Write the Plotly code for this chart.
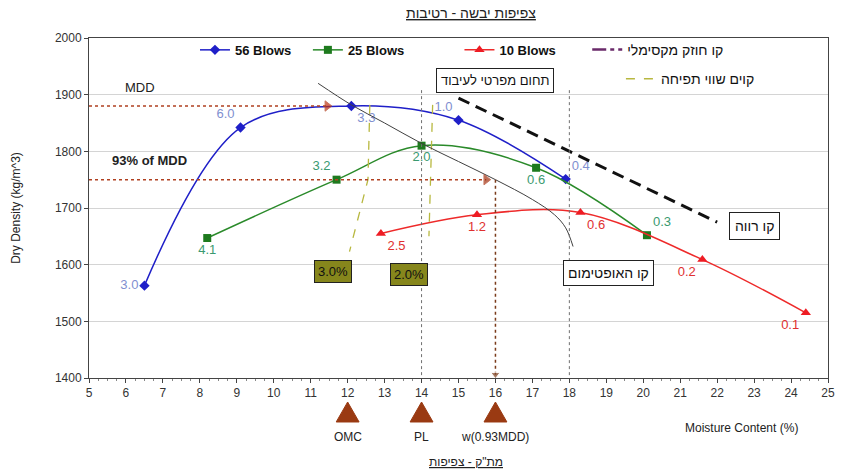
import plotly.graph_objects as go

# ---------------- data ----------------
moisture_56 = [6.5, 9.1, 12.1, 15.0, 17.9]
density_56 = [1563, 1842, 1880, 1855, 1751]
swell_56 = ["3.0", "6.0", "3.3", "1.0", "0.4"]

moisture_25 = [8.2, 11.7, 14.0, 17.1, 20.1]
density_25 = [1647, 1750, 1810, 1771, 1652]
swell_25 = ["4.1", "3.2", "2.0", "0.6", "0.3"]

moisture_10 = [12.9, 15.5, 18.3, 21.6, 24.4]
density_10 = [1655, 1688, 1692, 1609, 1515]
swell_10 = ["2.5", "1.2", "0.6", "0.2", "0.1"]

optimum_w = [11.2, 12.1, 13.0, 14.0, 15.0, 16.0, 17.0, 17.6, 17.9, 18.1]
optimum_d = [1920, 1882, 1850, 1814, 1782, 1750, 1715, 1688, 1665, 1632]

wet_w = [15.0, 22.0]
wet_d = [1894, 1675]

swell3_w = [12.6, 12.55, 12.05]
swell3_d = [1882, 1750, 1623]
swell2_w = [14.3, 14.25, 14.2]
swell2_d = [1882, 1750, 1650]

MDD = 1880
MDD93 = 1750
OMC = 12.0
PL = 14.0
W93 = 16.0
spec_range = [14.0, 18.0]
spec_top = 1908

marker_w = [OMC, PL, W93]
marker_names = ["OMC", "PL", "w(0.93MDD)"]

x_range = [5, 25]
y_range = [1400, 2000]

FONT = "Liberation Sans, Arial, DejaVu Sans, sans-serif"

fig = go.Figure()

# main series
fig.add_trace(go.Scatter(
    x=moisture_56, y=density_56, name="<b>56 Blows</b>",
    mode="lines+markers+text", line=dict(color="#1f1fc8", width=1.5, shape="spline", smoothing=1.0),
    marker=dict(symbol="diamond", size=8, color="#1f1fc8"),
    text=swell_56,
    textposition=["middle left", "top left", "bottom right", "top left", "top right"],
    textfont=dict(color="#7f8fd0", size=13, family=FONT),
    legend="legend"))
fig.add_trace(go.Scatter(
    x=moisture_25, y=density_25, name="<b>25 Blows</b>",
    mode="lines+markers+text", line=dict(color="#2a8a2a", width=1.5, shape="spline", smoothing=1.0),
    marker=dict(symbol="square", size=8, color="#1e7a1e"),
    text=swell_25,
    textposition=["bottom center", "top left", "bottom center", "bottom center", "top right"],
    textfont=dict(color="#3a9a70", size=13, family=FONT),
    legend="legend2"))
fig.add_trace(go.Scatter(
    x=moisture_10, y=density_10, name="<b>10 Blows</b>",
    mode="lines+markers+text", line=dict(color="#ee2a2a", width=1.5, shape="spline", smoothing=1.0),
    marker=dict(symbol="triangle-up", size=9, color="#ee1c24"),
    text=swell_10,
    textposition=["bottom right", "bottom center", "bottom right", "bottom left", "bottom left"],
    textfont=dict(color="#e03030", size=13, family=FONT),
    legend="legend3"))
fig.add_trace(go.Scatter(
    x=[None], y=[None], name="קו חוזק מקסימלי",
    mode="lines", line=dict(color="#6a2a6a", width=2.5, dash="14px,4px,4px,4px"),
    legend="legend4"))

# swell (equal opening) lines
fig.add_trace(go.Scatter(
    x=swell3_w, y=swell3_d, name="קוים שווי תפיחה", mode="lines",
    line=dict(color="#b8b840", width=1.3, dash="dash"), legend="legend5"))
fig.add_trace(go.Scatter(
    x=swell2_w, y=swell2_d, showlegend=False, mode="lines",
    line=dict(color="#b8b840", width=1.3, dash="dash")))

# optimum line
fig.add_trace(go.Scatter(
    x=optimum_w, y=optimum_d, showlegend=False, mode="lines",
    line=dict(color="#404040", width=1, shape="spline")))

# wet (saturation) line
fig.add_trace(go.Scatter(
    x=wet_w, y=wet_d, showlegend=False, mode="lines",
    line=dict(color="#111111", width=3, dash="12px,7px")))

# specification range verticals
for w in spec_range:
    fig.add_trace(go.Scatter(
        x=[w, w], y=[spec_top, y_range[0]], showlegend=False, mode="lines",
        line=dict(color="#707070", width=1, dash="dot")))

# MDD horizontal with arrow
fig.add_trace(go.Scatter(
    x=[x_range[0], OMC - 0.55], y=[MDD, MDD], showlegend=False, mode="lines+markers",
    line=dict(color="#b04020", width=1.5, dash="dot"),
    marker=dict(symbol=["circle", "triangle-right"], size=[0, 9], color="#c03010")))

# 93% MDD horizontal with arrow
fig.add_trace(go.Scatter(
    x=[x_range[0], W93 - 0.25], y=[MDD93, MDD93], showlegend=False, mode="lines+markers",
    line=dict(color="#b04020", width=1.5, dash="dot"),
    marker=dict(symbol=["circle", "triangle-right"], size=[0, 9], color="#a03010")))

# vertical at w(0.93MDD) with arrow
fig.add_trace(go.Scatter(
    x=[W93, W93], y=[MDD93, y_range[0] + 6], showlegend=False, mode="lines+markers",
    line=dict(color="#7a3b1a", width=1.5, dash="dot"),
    marker=dict(symbol=["circle", "triangle-down"], size=[0, 8], color="#7a3b1a")))

# brown triangles below the axis (shapes positioned at the data x values)
shapes = []
half_w = 0.31
for w in marker_w:
    shapes.append(dict(
        type="path", xref="x", yref="paper",
        path=f"M {w - half_w} -0.1294 L {w + half_w} -0.1294 L {w} -0.0706 Z",
        fillcolor="#9a3a12", line=dict(color="#9a3a12", width=1), layer="above"))

annotations = []
for w, name in zip(marker_w, marker_names):
    annotations.append(dict(x=w, y=-0.1735, xref="x", yref="paper", text=name, showarrow=False,
                            yanchor="middle", font=dict(size=12, color="#222", family=FONT)))

annotations += [
    dict(x=0.517, y=1.0735, xref="paper", yref="paper", text="<u>צפיפות יבשה - רטיבות</u>",
         showarrow=False, yanchor="middle", font=dict(size=14, color="#222", family=FONT)),
    dict(x=0.51, y=-0.247, xref="paper", yref="paper", text="<u>מת\"ק - צפיפות</u>",
         showarrow=False, yanchor="middle", font=dict(size=12, color="#222", family=FONT)),
    dict(x=22.65, y=-0.147, xref="x", yref="paper", text="Moisture Content (%)",
         showarrow=False, yanchor="middle", font=dict(size=12, color="#222", family=FONT)),
    dict(x=-0.099, y=0.5, xref="paper", yref="paper", text="Dry Density (kg/m^3)", textangle=-90,
         showarrow=False, xanchor="center", yanchor="middle",
         font=dict(size=12, color="#222", family=FONT)),
    dict(x=6.37, y=1912, xref="x", yref="y", text="MDD", showarrow=False,
         font=dict(size=13, color="#222", family=FONT)),
    dict(x=6.64, y=1784, xref="x", yref="y", text="<b>93% of MDD</b>", showarrow=False,
         font=dict(size=13, color="#222", family=FONT)),
    dict(x=16.0, y=1925, xref="x", yref="y", text="תחום מפרטי לעיבוד", showarrow=False,
         bgcolor="white", bordercolor="#222", borderwidth=1, borderpad=4,
         font=dict(size=13, color="#111", family=FONT)),
    dict(x=19.05, y=1586, xref="x", yref="y", text="קו האופטימום", showarrow=False,
         bgcolor="white", bordercolor="#222", borderwidth=1, borderpad=4,
         font=dict(size=14, color="#111", family=FONT)),
    dict(x=23.0, y=1668, xref="x", yref="y", text="קו רווה", showarrow=False,
         bgcolor="white", bordercolor="#222", borderwidth=1, borderpad=5,
         font=dict(size=14, color="#111", family=FONT)),
    dict(x=11.6, y=1588, xref="x", yref="y", text="3.0%", showarrow=False,
         bgcolor="#86861c", bordercolor="#222", borderwidth=1, borderpad=3,
         font=dict(size=13, color="#111", family=FONT)),
    dict(x=13.65, y=1582, xref="x", yref="y", text="2.0%", showarrow=False,
         bgcolor="#86861c", bordercolor="#222", borderwidth=1, borderpad=3,
         font=dict(size=13, color="#111", family=FONT)),
]


def leg(xp, yp, size=12):
    return dict(orientation="h", x=xp, y=yp, xanchor="left", yanchor="middle",
                bgcolor="rgba(0,0,0,0)", borderwidth=0,
                font=dict(size=size, color="#111", family=FONT))


fig.update_layout(
    width=843, height=473,
    margin=dict(l=89, r=8, t=38, b=95),
    paper_bgcolor="white", plot_bgcolor="white",
    font=dict(family=FONT, size=12, color="#222"),
    annotations=annotations,
    shapes=shapes,
    legend=leg(0.1434, 0.965, 13),
    legend2=leg(0.2962, 0.965, 13),
    legend3=leg(0.5013, 0.965, 13),
    legend4=leg(0.6742, 0.965, 14),
    legend5=leg(0.7198, 0.879, 14),
    xaxis=dict(range=x_range, dtick=1, tick0=5, showgrid=False, zeroline=False,
               showline=True, linecolor="#444", linewidth=1, mirror=True,
               ticks="outside", ticklen=4, tickcolor="#444",
               minor=dict(dtick=0.25, ticks="outside", ticklen=2, tickcolor="#888"),
               tickfont=dict(size=12, color="#333")),
    yaxis=dict(range=y_range, dtick=100, showgrid=True, gridcolor="#d4d4d4", gridwidth=1,
               zeroline=False, showline=True, linecolor="#444", linewidth=1, mirror=True,
               ticks="outside", ticklen=4, tickcolor="#444",
               tickfont=dict(size=12, color="#333")),
    showlegend=True,
)

fig.write_html("out.html")
